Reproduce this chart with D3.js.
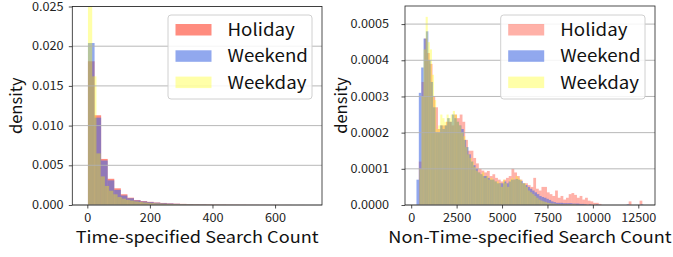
<!DOCTYPE html>
<html>
<head>
<meta charset="utf-8">
<script src="https://cdn.jsdelivr.net/npm/d3@7"></script>
<style>
body { margin: 0; background: #fff; }
text { font-family: "Noto Sans CJK JP", "Noto Sans", sans-serif; }
</style>
</head>
<body>
<svg id="chart" width="673" height="257"></svg>
<script>
const seriesNames = ['Holiday', 'Weekend', 'Weekday'];

// left panel: Time-specified Search Count (bin start, bin width, density per bin)
const tsTicksX = [0, 200, 400, 600];
const tsTicksY = [0, 0.005, 0.010, 0.015, 0.020, 0.025];
const tsHoliday = {start: 2, width: 21, values: [
    0.0181, 0.0113, 0.0058, 0.0033, 0.0021, 0.00135, 0.00092, 0.00063, 0.0005, 0.0004,
    0.00032, 0.00026, 0.00021, 0.00017, 0.00014, 0.00012, 0.0001, 0.00008, 0.00007, 0.00006,
    0.00005, 0.00004, 0.000035, 0.00003, 0.000025, 0.00002, 0.00002, 0.000015, 0.000015, 0.00001,
    0.00001, 0, 0.000005]};
const tsWeekend = {start: 2, width: 21, values: [
    0.0204, 0.0110, 0.0056, 0.0031, 0.0019, 0.0012, 0.00085, 0.00058, 0.00045, 0.00036,
    0.00029, 0.00023, 0.00019, 0.00015, 0.00012, 0.0001, 0.00008, 0.00007, 0.00005, 0.00004,
    0.00003, 0.000025, 0.00002, 0.000015, 0.00001, 0.00001, 0.000005, 0.000005, 0, 0, 0.000003]};
const tsWeekday = {start: 2, width: 13.5, values: [
    0.0262, 0.0162, 0.0065, 0.0036, 0.0024, 0.0018, 0.00135, 0.0010, 0.0008, 0.00065,
    0.00055, 0.00045, 0.00038, 0.00032, 0.00027, 0.00023, 0.0002, 0.00017, 0.00015, 0.00013,
    0.00011, 0.0001, 0.00009, 0.00008, 0.00007, 0.00006, 0.00005, 0.000045, 0.00004, 0.000035,
    0.00003, 0.000025, 0.00002, 0.00002, 0.000015, 0.000015, 0.00001, 0.00001, 0.000008, 0.000008,
    0.000005, 0.000005, 0.000004, 0.000003, 0.000003, 0.000002, 0.000002, 0, 0.000002, 0, 0.000002]};

// right panel: Non-Time-specified Search Count
const ntTicksX = [0, 2500, 5000, 7500, 10000, 12500];
const ntTicksY = [0, 0.0001, 0.0002, 0.0003, 0.0004, 0.0005];
const ntHoliday = {start: 420, width: 150, values: [
    12e-5, 34e-5, 46e-5, 42e-5, 39e-5, 30e-5, 27e-5, 21e-5, 22e-5, 22e-5,
    23e-5, 23e-5, 22e-5, 25e-5, 24e-5, 25e-5, 23e-5, 18e-5, 15e-5, 15e-5,
    13e-5, 11.5e-5, 10e-5, 9.5e-5, 9e-5, 9.4e-5, 8e-5, 8.5e-5, 7.5e-5, 7e-5,
    6.5e-5, 7e-5, 7.5e-5, 8e-5, 10e-5, 9e-5, 8e-5, 7e-5, 6e-5, 6e-5,
    5.5e-5, 5e-5, 7.5e-5, 4.5e-5, 4e-5, 5e-5, 5e-5, 3.5e-5, 3e-5, 2.5e-5,
    4e-5, 2e-5, 2.5e-5, 1.5e-5, 2e-5, 3e-5, 3.3e-5, 2.8e-5, 2e-5, 2.5e-5,
    1.5e-5, 2e-5, 1.2e-5, 1e-5, 0.6e-5, 0.6e-5, 0.3e-5, 0, 0, 0,
    0, 0, 0, 0, 0, 0, 0, 1e-5, 0, 0,
    0, 1.2e-5]};
const ntWeekend = {start: 290, width: 130, values: [
    7e-5, 31e-5, 38e-5, 46e-5, 48e-5, 40e-5, 34e-5, 27e-5, 20e-5, 20e-5,
    22e-5, 21e-5, 22e-5, 24e-5, 23e-5, 25e-5, 24e-5, 23e-5, 22e-5, 21e-5,
    18e-5, 16e-5, 14e-5, 12e-5, 11e-5, 10e-5, 9e-5, 8.5e-5, 8e-5, 8e-5,
    7.5e-5, 7e-5, 7e-5, 6.5e-5, 6e-5, 6e-5, 6e-5, 6.5e-5, 6e-5, 6.5e-5,
    7e-5, 7e-5, 7.2e-5, 7e-5, 6.6e-5, 6e-5, 5.5e-5, 5e-5, 4.5e-5, 4e-5,
    3.5e-5, 3e-5, 2.5e-5, 2.2e-5, 2e-5, 1.7e-5, 1.4e-5, 1e-5, 0.8e-5, 0.6e-5,
    0.6e-5, 0.6e-5, 0.5e-5, 0.5e-5, 0.5e-5, 0.5e-5, 0.4e-5, 0.4e-5, 0.4e-5, 0.3e-5,
    0.3e-5, 0.2e-5, 0, 0.2e-5, 0, 0, 0.2e-5, 0, 0, 0,
    0, 0, 0, 0, 0, 0, 0, 0, 0, 0.2e-5,
    0, 0, 0, 0, 0, 0.2e-5]};
const ntWeekday = {start: 450, width: 115, values: [
    10e-5, 30e-5, 43e-5, 52e-5, 45e-5, 43e-5, 36e-5, 29e-5, 21e-5, 22e-5,
    25e-5, 24e-5, 23e-5, 25e-5, 24e-5, 25e-5, 26e-5, 25e-5, 23e-5, 22e-5,
    20e-5, 19e-5, 16e-5, 14e-5, 13e-5, 12e-5, 10.5e-5, 9.5e-5, 9e-5, 8.5e-5,
    9e-5, 7.5e-5, 8e-5, 7e-5, 7.5e-5, 7e-5, 6.5e-5, 6.5e-5, 6e-5, 5e-5,
    7e-5, 6e-5, 5e-5, 7e-5, 7.5e-5, 7e-5, 8e-5, 7.5e-5, 7e-5, 6e-5,
    6e-5, 5e-5, 4e-5, 3.5e-5, 3e-5, 2.5e-5, 2e-5, 1.5e-5, 1.2e-5, 1e-5,
    0.8e-5, 0.6e-5, 0.5e-5, 0.4e-5, 0.4e-5, 0.3e-5, 0.2e-5, 0.2e-5, 0.2e-5, 0.2e-5,
    0.2e-5, 0.2e-5, 0.2e-5, 0.2e-5, 0.2e-5]};

const svg = d3.select('#chart');
// the source figure is slightly stretched horizontally, so horizontal text is too
const stretch = 1.1;

function drawPanel(p) {
    const g = svg.append('g');
    const x = d3.scaleLinear().domain(p.xDomain).range([p.left, p.right]);
    const y = d3.scaleLinear().domain(p.yDomain).range([p.bottom, p.top]);

    g.append('clipPath').attr('id', p.id + '-clip')
        .append('rect')
        .attr('x', p.left).attr('y', p.top)
        .attr('width', p.right - p.left).attr('height', p.bottom - p.top);

    // Histogram bars, one group per series
    const bars = g.append('g').attr('clip-path', `url(#${p.id}-clip)`);
    p.series.forEach((s, k) => {
        bars.append('g')
            .attr('fill', p.colors[k])
            .attr('fill-opacity', p.opacity[k])
            .selectAll('rect')
            .data(s.values)
            .enter()
            .append('rect')
            .attr('x', (d, i) => x(s.start + i * s.width))
            .attr('width', (d, i) => x(s.start + (i + 1) * s.width) - x(s.start + i * s.width) + 0.05)
            .attr('y', d => y(d))
            .attr('height', d => y(0) - y(d));
    });

    // Horizontal grid (matplotlib draws it above the patches)
    g.append('g')
        .selectAll('line')
        .data(p.yTicks)
        .enter()
        .append('line')
        .attr('x1', p.left).attr('x2', p.right)
        .attr('y1', d => y(d)).attr('y2', d => y(d))
        .attr('stroke', '#b0b0b0')
        .attr('stroke-width', 0.9);

    // Axes
    const xAxis = g.append('g')
        .attr('transform', `translate(0,${p.bottom})`)
        .call(d3.axisBottom(x).tickValues(p.xTicks).tickFormat(d3.format('d')).tickSize(3.5).tickPadding(5));
    const yAxis = g.append('g')
        .attr('transform', `translate(${p.left},0)`)
        .call(d3.axisLeft(y).tickValues(p.yTicks).tickFormat(d3.format(p.yFormat)).tickSize(3.5).tickPadding(p.yPad));
    [xAxis, yAxis].forEach(a => {
        a.select('.domain').remove();
        a.selectAll('.tick line').attr('stroke', '#222').attr('stroke-width', 0.8);
        a.selectAll('.tick text')
            .attr('fill', '#222')
            .attr('transform', `scale(${stretch},1)`)
            .style('font-size', '11.5px')
            .style('font-family', '"Noto Sans CJK JP", "Noto Sans", sans-serif');
    });

    // Frame
    g.append('rect')
        .attr('x', p.left).attr('y', p.top)
        .attr('width', p.right - p.left).attr('height', p.bottom - p.top)
        .attr('fill', 'none')
        .attr('stroke', '#222')
        .attr('stroke-width', 0.8);

    // Axis titles
    g.append('text')
        .attr('transform', `translate(${(p.left + p.right) / 2},243) scale(${stretch},1)`)
        .attr('text-anchor', 'middle')
        .attr('font-size', 16.5)
        .attr('fill', '#111')
        .text(p.xLabel);
    g.append('text')
        .attr('transform', `translate(${p.yLabelX},${(p.top + p.bottom) / 2}) rotate(-90)`)
        .attr('text-anchor', 'middle')
        .attr('font-size', 16.5)
        .attr('fill', '#111')
        .text('density');

    // Legend
    const lg = g.append('g');
    lg.append('rect')
        .attr('x', p.legendX).attr('y', 15)
        .attr('width', p.right - 10 - p.legendX).attr('height', 84)
        .attr('rx', 3)
        .attr('fill', '#fff').attr('fill-opacity', 0.85)
        .attr('stroke', '#d0d0d0');
    const rows = lg.selectAll('g.row')
        .data(seriesNames)
        .enter()
        .append('g')
        .attr('class', 'row')
        .attr('transform', (d, i) => `translate(${p.legendX + 7.5},${24 + i * 26.3})`);
    rows.append('rect')
        .attr('width', 36).attr('height', 11.5)
        .attr('fill', (d, i) => p.colors[i])
        .attr('fill-opacity', (d, i) => p.opacity[i]);
    rows.append('text')
        .attr('transform', `translate(52,12) scale(${stretch},1)`)
        .attr('font-size', 17)
        .attr('fill', '#111')
        .text(d => d);
}

drawPanel({
    id: 'ts',
    left: 72.3, right: 322, top: 6.5, bottom: 205,
    xDomain: [-48, 750], yDomain: [0, 0.025],
    xTicks: tsTicksX, yTicks: tsTicksY, yFormat: '.3f', yPad: 4.5,
    series: [tsHoliday, tsWeekend, tsWeekday],
    colors: ['#ff1a00', '#4169e1', '#ffff00'],
    opacity: [0.5, 0.58, 0.34],
    xLabel: 'Time-specified Search Count',
    yLabelX: 22,
    legendX: 168
});

drawPanel({
    id: 'nt',
    left: 405, right: 655, top: 6, bottom: 205,
    xDomain: [-341, 13419], yDomain: [0, 0.00055],
    xTicks: ntTicksX, yTicks: ntTicksY, yFormat: '.4f', yPad: 11,
    series: [ntHoliday, ntWeekend, ntWeekday],
    colors: ['#ff1a00', '#4169e1', '#ffff00'],
    opacity: [0.34, 0.58, 0.34],
    xLabel: 'Non-Time-specified Search Count',
    yLabelX: 347,
    legendX: 500.7
});
</script>
</body>
</html>
